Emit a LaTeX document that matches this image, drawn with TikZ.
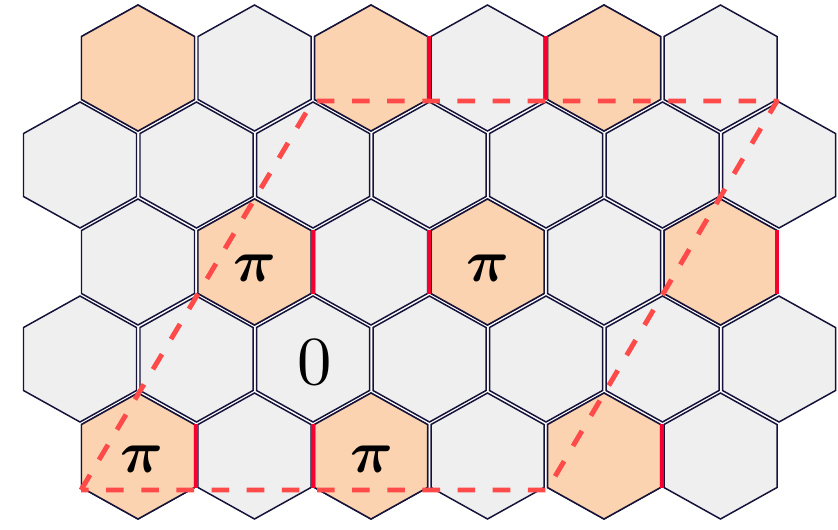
\documentclass[tikz,border=0pt]{standalone}
\usepackage{amsmath}

\definecolor{cellgray}{HTML}{EFEFEF}
\definecolor{cellpeach}{HTML}{FBD3B0}
\definecolor{edgenavy}{HTML}{15133A}
\definecolor{bondred}{HTML}{F50030}
\definecolor{cutred}{HTML}{FF4A4A}

\tikzset{
  cell/.style={draw=edgenavy, line width=0.85pt, line join=miter},
  bond/.style={draw=bondred, line width=2.4pt},
  cut/.style={draw=cutred, line width=2.8pt, dash pattern=on 10pt off 10pt, line join=round},
  cellsym/.style={scale=3.4, inner sep=0pt},
}

% one hexagonal cell: centre x, centre y, fill colour
\newcommand{\hexcell}[3]{%
  \filldraw[cell, fill=#3] ({#1},{#2}) +(0,-63) -- +(56.5,-31.5) -- +(56.5,31.5)
    -- +(0,63) -- +(-56.5,31.5) -- +(-56.5,-31.5) -- cycle;}

\begin{document}
\begin{tikzpicture}[x=0.02cm, y=-0.02cm]
    \useasboundingbox (0,0) rectangle (838,529);

    % Draw the lattice
    \foreach \r in {0,2,4}
        \foreach \c in {0,...,5} \hexcell{138+116.5*\c}{68+97*\r}{cellgray};
    \foreach \r in {1,3}
        \foreach \c in {0,...,6} \hexcell{80+116.5*\c}{68+97*\r}{cellgray};

    % Shaded cells
    \foreach \x/\y in {138/68, 371/68, 604/68, 254.5/262, 487.5/262, 720.5/262,
                       138/456, 371/456, 604/456}
        \hexcell{\x}{\y}{cellpeach};

    % Red bonds
    \foreach \x/\y in {429.25/68, 545.75/68, 312.75/262, 429.25/262, 777/262,
                       196.25/456, 312.75/456, 662.25/456}
        \draw[bond] (\x,\y-32) -- (\x,\y+32);

    % Dashed unit cell
    \coordinate (cutBL) at (81,490);
    \coordinate (cutTL) at (313,101);
    \coordinate (cutTR) at (777,101);
    \coordinate (cutBR) at (547,490);
    \draw[cut] (cutBL) -- (cutTL) -- (cutTR) -- (cutBR) -- cycle;

    % Label cells
    \node[cellsym] (piA) at (255,268) {$\boldsymbol{\pi}$};
    \node[cellsym] (piB) at (488,268) {$\boldsymbol{\pi}$};
    \node[cellsym] (piC) at (142,459) {$\boldsymbol{\pi}$};
    \node[cellsym] (piD) at (372,459) {$\boldsymbol{\pi}$};
    \node[cellsym, scale=1.15] (zero) at (315,362) {$0$};
\end{tikzpicture}
\end{document}
